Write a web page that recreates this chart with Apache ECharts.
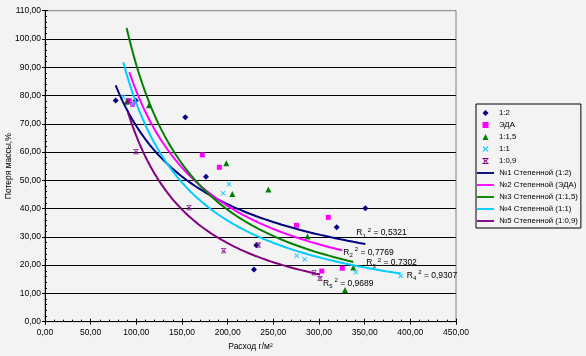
<!DOCTYPE html>
<html><head><meta charset="utf-8">
<script src="https://cdn.jsdelivr.net/npm/echarts@6/dist/echarts.min.js"></script>
<style>html,body{margin:0;padding:0;background:#f3f3f3}#c{width:586px;height:356px}</style>
</head><body><div id="c"></div>
<script>
// ---- Data (x: Расход г/м², y: Потеря массы, %) ----
const seriesNames = ['1:2', 'ЭДА', '1:1,5', '1:1', '1:0,9'];
const trendNames = ['№1 Степенной (1:2)', '№2 Степенной (ЭДА)', '№3 Степенной (1:1,5)', '№4 Степенной (1:1)', '№5 Степенной (1:0,9)'];

const x12  = [77.4, 99.3, 153.6, 176.3, 228.8, 231.4, 319.4, 350.7];
const y12  = [78.2, 78.2, 72.3, 51.3, 18.5, 27.0, 33.4, 40.1];

const xEda = [92.3, 96.0, 172.2, 190.9, 275.4, 303.0, 310.2, 325.5];
const yEda = [78.1, 76.9, 59.0, 54.6, 34.1, 17.9, 36.9, 18.9];

const x115 = [89.4, 113.9, 198.5, 205.1, 244.5, 287.4, 328.5, 337.6];
const y115 = [77.8, 76.6, 56.0, 45.2, 46.8, 30.1, 11.2, 19.2];

const x11  = [85.7, 96.0, 194.9, 201.5, 275.6, 284.3, 340.2, 389.5];
const y11  = [79.6, 77.0, 45.4, 48.6, 23.3, 22.1, 17.5, 16.2];

const x109 = [90.9, 99.6, 157.7, 195.6, 233.6, 294.5, 301.1];
const y109 = [78.1, 60.1, 40.3, 25.1, 27.1, 17.3, 15.3];

// R² values printed next to the trendlines
const r2Labels = ['0,5321', '0,7769', '0,7302', '0,9307', '0,9689'];

// Axis ranges / tick steps
const xMin = 0, xMax = 450, xStep = 50;
const yMin = 0, yMax = 110, yStep = 10;

// ---- Styles ----
const FONT = 'Liberation Sans, Arial, sans-serif';
const colors = ['#000080', '#ff00ff', '#008000', '#00ccff', '#800080'];
const markerColors = ['#000080', '#ff00ff', '#008000', '#33ccff', '#800080'];
const DIAMOND = 'path://M5,0L10,5L5,10L0,5Z';
const SQUARE = 'path://M0,0H10V10H0Z';
const TRIANGLE = 'path://M5,0L10,10H0Z';
const CROSS = 'path://M0,1.5L1.5,0L5,3.5L8.5,0L10,1.5L6.5,5L10,8.5L8.5,10L5,6.5L1.5,10L0,8.5L3.5,5Z';
const STAR = 'path://M0,0H10V1.6H0Z M0,8.4H10V10H0Z M1,2.8L2.6,1.8L5,4.2L7.4,1.8L9,2.8L6.3,5L9,7.2L7.4,8.2L5,5.8L2.6,8.2L1,7.2L3.7,5Z';
const LINEICON = 'path://M0,0H20V2.2H0Z';
const symbols = [DIAMOND, SQUARE, TRIANGLE, CROSS, STAR];
const symbolSizes = [6, 5, 6, 5, 5];
const labelOffsets = [[-9, -11], [1, 2], [13, 1], [6, 2], [3, 9]];

const xs = [x12, xEda, x115, x11, x109];
const ys = [y12, yEda, y115, y11, y109];

// Power trendline y = a·x^b by least squares on ln–ln (how the spreadsheet fits it)
function powerTrend(xArr, yArr) {
  const n = xArr.length;
  const lx = xArr.map(Math.log), ly = yArr.map(Math.log);
  const mx = lx.reduce((s, v) => s + v, 0) / n, my = ly.reduce((s, v) => s + v, 0) / n;
  let sxy = 0, sxx = 0;
  for (let i = 0; i < n; i++) { sxy += (lx[i] - mx) * (ly[i] - my); sxx += (lx[i] - mx) * (lx[i] - mx); }
  const b = sxy / sxx, lnA = my - b * mx;
  const lo = Math.min(...xArr), hi = Math.max(...xArr);
  const pts = [];
  const N = 80;
  for (let i = 0; i <= N; i++) {
    const x = lo * Math.pow(hi / lo, i / N);
    pts.push([x, Math.exp(lnA + b * Math.log(x))]);
  }
  return pts;
}

const fmt = v => v.toFixed(2).replace('.', ',');

const series = [];
for (let k = 0; k < 5; k++) {
  series.push({
    name: seriesNames[k], type: 'scatter',
    data: xs[k].map((x, i) => [x, ys[k][i]]),
    symbol: symbols[k], symbolSize: symbolSizes[k],
    itemStyle: { color: markerColors[k], opacity: 1 },
    z: 2, silent: true
  });
}
for (let k = 0; k < 5; k++) {
  series.push({
    name: trendNames[k], type: 'line',
    data: powerTrend(xs[k], ys[k]),
    symbol: 'none', showSymbol: false,
    lineStyle: { color: colors[k], width: 2 },
    itemStyle: { color: colors[k] },
    z: 3, silent: true,
    endLabel: {
      show: true, distance: 0, offset: labelOffsets[k],
      align: 'left', verticalAlign: 'middle',
      formatter: '{r|R}{s|' + (k + 1) + '}{p|2}{t| = ' + r2Labels[k] + '}',
      rich: {
        r: { fontFamily: FONT, fontSize: 8.5, color: '#000', lineHeight: 12 },
        s: { fontFamily: FONT, fontSize: 6, color: '#000', lineHeight: 6, verticalAlign: 'bottom' },
        p: { fontFamily: FONT, fontSize: 6, color: '#000', lineHeight: 6, verticalAlign: 'top', padding: [0, 0, 0, 2] },
        t: { fontFamily: FONT, fontSize: 8.5, color: '#000', lineHeight: 12 }
      }
    }
  });
}

const legendData = seriesNames.map((n, k) => ({ name: n, icon: symbols[k] }))
  .concat(trendNames.map(n => ({ name: n, icon: LINEICON })));

const axisText = { fontFamily: FONT, fontSize: 8.5, color: '#000' };

const option = {
  animation: false,
  backgroundColor: '#f3f3f3',
  textStyle: { fontFamily: FONT },
  grid: { left: 45, right: 130, top: 10.7, bottom: 34.3, outerBoundsMode: 'none', containLabel: false,
          show: true, borderColor: '#808080', borderWidth: 1 },
  legend: {
    orient: 'vertical', left: 476, top: 104,
    itemWidth: 17, itemHeight: 6, itemGap: 0,
    padding: [3, 3, 1, 1],
    borderColor: '#000', borderWidth: 1,
    textStyle: { fontFamily: FONT, fontSize: 7.8, color: '#000', lineHeight: 12 },
    data: legendData,
    selectedMode: false
  },
  xAxis: [{
    type: 'value', min: xMin, max: xMax, interval: xStep,
    axisLine: { lineStyle: { color: '#000', width: 1 } },
    axisTick: { inside: true, length: 3, lineStyle: { color: '#000' } },
    minorTick: { show: true, splitNumber: 5, length: 2, lineStyle: { color: '#000' } },
    axisLabel: Object.assign({ margin: 6, formatter: fmt }, axisText),
    splitLine: { show: false },
    name: 'Расход г/м²', nameLocation: 'middle', nameGap: 20, nameMoveOverlap: false,
    nameTextStyle: axisText
  }, {
    type: 'value', min: xMin, max: xMax, interval: xStep, position: 'bottom',
    axisLine: { show: false }, axisLabel: { show: false }, splitLine: { show: false },
    axisTick: { inside: false, length: 3, lineStyle: { color: '#000' } }
  }],
  yAxis: [{
    type: 'value', min: yMin, max: yMax, interval: yStep,
    axisLine: { show: true, lineStyle: { color: '#000', width: 1 } },
    axisTick: { show: true, inside: true, length: 3, lineStyle: { color: '#000' } },
    minorTick: { show: true, splitNumber: 5, length: 2, lineStyle: { color: '#000' } },
    axisLabel: Object.assign({ margin: 4, formatter: fmt }, axisText),
    splitLine: { show: true, showMinLine: false, showMaxLine: false, lineStyle: { color: '#000', width: 1 } },
    name: 'Потеря массы,%', nameLocation: 'middle', nameGap: 32, nameMoveOverlap: false,
    nameTextStyle: axisText
  }, {
    type: 'value', min: yMin, max: yMax, interval: yStep, position: 'left',
    axisLine: { show: false }, axisLabel: { show: false }, splitLine: { show: false },
    axisTick: { show: true, inside: false, length: 3, lineStyle: { color: '#000' } }
  }],
  series: series
};

const chart = echarts.init(document.getElementById('c'), null, { renderer: 'canvas' });
chart.setOption(option);
</script>
</body></html>
